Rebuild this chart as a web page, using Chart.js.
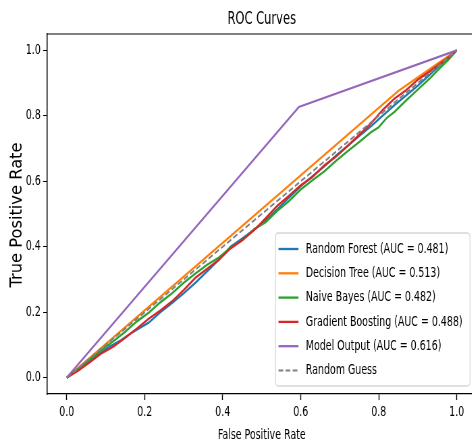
<!DOCTYPE html>
<html>
<head>
<meta charset="utf-8">
<script src="https://cdn.jsdelivr.net/npm/chart.js@4.4.1/dist/chart.umd.min.js"></script>
<style>
  html, body { margin: 0; padding: 0; background: #fff; overflow: hidden; }
  /* the reference is squeezed sideways, so the canvas is drawn wide and scaled down */
  #wrap { width: 716px; height: 446px; transform: scaleX(0.675); transform-origin: 0 0; }
</style>
</head>
<body>
<div id="wrap"><canvas id="roc" width="716" height="446"></canvas></div>
<script>
const SQUEEZE = 0.675;

const modelNames = ["Random Forest", "Decision Tree", "Naive Bayes", "Gradient Boosting", "Model Output"];
const aucValues = [0.481, 0.513, 0.482, 0.488, 0.616];
const lineColors = ["#1f77b4", "#ff7f0e", "#2ca02c", "#d62728", "#9467bd"];

const rfFpr = [0, 0.02, 0.05, 0.08, 0.11, 0.14, 0.17, 0.21, 0.24, 0.27, 0.30, 0.33, 0.36, 0.39, 0.42, 0.45, 0.48, 0.51, 0.54, 0.57, 0.60, 0.63, 0.66, 0.69, 0.72, 0.75, 0.78, 0.81, 0.84, 0.87, 0.90, 0.93, 0.96, 0.98, 1.0];
const rfTpr = [0, 0.018, 0.043, 0.07, 0.095, 0.115, 0.14, 0.168, 0.2, 0.228, 0.258, 0.29, 0.325, 0.36, 0.4, 0.425, 0.452, 0.48, 0.515, 0.55, 0.585, 0.615, 0.645, 0.678, 0.708, 0.738, 0.768, 0.8, 0.832, 0.862, 0.892, 0.925, 0.958, 0.978, 1.0];

const dtFpr = [0, 0.85, 1.0];
const dtTpr = [0, 0.876, 1.0];

const nbFpr = [0, 0.03, 0.06, 0.09, 0.12, 0.15, 0.18, 0.21, 0.24, 0.27, 0.30, 0.33, 0.36, 0.39, 0.42, 0.45, 0.48, 0.51, 0.54, 0.57, 0.60, 0.63, 0.66, 0.69, 0.72, 0.75, 0.78, 0.80, 0.82, 0.84, 0.87, 0.90, 0.93, 0.96, 0.98, 1.0];
const nbTpr = [0, 0.027, 0.056, 0.085, 0.112, 0.14, 0.172, 0.198, 0.23, 0.258, 0.29, 0.318, 0.345, 0.367, 0.397, 0.42, 0.453, 0.475, 0.51, 0.54, 0.575, 0.603, 0.63, 0.662, 0.692, 0.72, 0.75, 0.765, 0.793, 0.812, 0.847, 0.88, 0.913, 0.95, 0.973, 1.0];

const gbFpr = [0, 0.03, 0.06, 0.09, 0.12, 0.15, 0.18, 0.21, 0.24, 0.27, 0.30, 0.33, 0.36, 0.39, 0.42, 0.45, 0.48, 0.51, 0.54, 0.57, 0.60, 0.63, 0.66, 0.69, 0.72, 0.75, 0.78, 0.81, 0.84, 0.87, 0.90, 0.93, 0.96, 0.98, 1.0];
const gbTpr = [0, 0.022, 0.048, 0.075, 0.095, 0.122, 0.15, 0.18, 0.205, 0.233, 0.268, 0.305, 0.333, 0.36, 0.395, 0.42, 0.45, 0.487, 0.525, 0.556, 0.588, 0.613, 0.648, 0.675, 0.708, 0.742, 0.777, 0.818, 0.852, 0.878, 0.91, 0.935, 0.962, 0.98, 1.0];

const moFpr = [0, 0.595, 1.0];
const moTpr = [0, 0.827, 1.0];

const guessFpr = [0, 1];
const guessTpr = [0, 1];

const tickValues = [0, 0.2, 0.4, 0.6, 0.8, 1.0];

const curveFpr = [rfFpr, dtFpr, nbFpr, gbFpr, moFpr];
const curveTpr = [rfTpr, dtTpr, nbTpr, gbTpr, moTpr];

Chart.defaults.font.family = "'DejaVu Sans', sans-serif";
Chart.defaults.color = "#000";

const toPoints = (xs, ys) => xs.map((x, i) => ({ x: x, y: ys[i] }));

const datasets = modelNames.map((name, i) => ({
  label: `${name} (AUC = ${aucValues[i].toFixed(3)})`,
  data: toPoints(curveFpr[i], curveTpr[i]),
  showLine: true,
  borderColor: lineColors[i],
  backgroundColor: lineColors[i],
  borderWidth: 2.3,
  pointRadius: 0,
  order: 10 - i,
}));
datasets.push({
  label: "Random Guess",
  data: toPoints(guessFpr, guessTpr),
  showLine: true,
  borderColor: "#808080",
  backgroundColor: "#808080",
  borderWidth: 2,
  borderDash: [7, 3.5],
  pointRadius: 0,
  order: 0,
});

// title centred over the plot area, like matplotlib
const titlePlugin = {
  id: "plotTitle",
  afterDraw(chart) {
    const { ctx, chartArea } = chart;
    ctx.save();
    ctx.font = "17px 'DejaVu Sans'";
    ctx.fillStyle = "#000";
    ctx.textAlign = "center";
    ctx.textBaseline = "alphabetic";
    ctx.fillText("ROC Curves", (chartArea.left + chartArea.right) / 2, 24);
    ctx.restore();
  },
};

// y label is not squeezed in the reference, so undo the squeeze for it
const yLabelPlugin = {
  id: "yLabel",
  afterDraw(chart) {
    const { ctx, chartArea: a } = chart;
    ctx.save();
    ctx.translate(25.9, (a.top + a.bottom) / 2 + 1);
    ctx.scale(1 / SQUEEZE, 1);
    ctx.rotate(-Math.PI / 2);
    ctx.font = "16.3px 'DejaVu Sans'";
    ctx.fillStyle = "#000";
    ctx.textAlign = "center";
    ctx.textBaseline = "middle";
    ctx.fillText("True Positive Rate", 0, 0);
    ctx.restore();
  },
};

// top and right spines
const framePlugin = {
  id: "frame",
  afterDraw(chart) {
    const { ctx, chartArea: a } = chart;
    ctx.save();
    ctx.strokeStyle = "#000";
    ctx.lineWidth = 1.2;
    ctx.beginPath();
    ctx.moveTo(a.left, a.top);
    ctx.lineTo(a.right, a.top);
    ctx.stroke();
    ctx.lineWidth = 1.5;
    ctx.beginPath();
    ctx.moveTo(a.right, a.top);
    ctx.lineTo(a.right, a.bottom);
    ctx.stroke();
    ctx.restore();
  },
};

// legend box in the lower right corner
const legendPlugin = {
  id: "cornerLegend",
  afterDatasetsDraw(chart) {
    const { ctx, chartArea: a } = chart;
    const sets = chart.data.datasets;
    const rowH = 24.3;
    ctx.save();
    ctx.font = "14px 'DejaVu Sans'";
    let maxW = 0;
    sets.forEach((d) => { maxW = Math.max(maxW, ctx.measureText(d.label).width); });
    const w = 44.9 + maxW + 11;
    const h = 16 + rowH * (sets.length - 1) + 15.5;
    const right = a.right - 9.2;
    const bottom = a.bottom - 8;
    const left = right - w;
    const top = bottom - h;
    ctx.fillStyle = "rgba(255,255,255,0.8)";
    ctx.strokeStyle = "#d6d6d6";
    ctx.lineWidth = 1.3;
    ctx.beginPath();
    ctx.roundRect(left, top, w, h, 4);
    ctx.fill();
    ctx.stroke();
    sets.forEach((d, i) => {
      const y = top + 16 + i * rowH;
      ctx.strokeStyle = d.borderColor;
      ctx.lineWidth = d.borderWidth;
      ctx.setLineDash(d.borderDash || []);
      ctx.beginPath();
      ctx.moveTo(left + 4.4, y);
      ctx.lineTo(left + 34, y);
      ctx.stroke();
      ctx.setLineDash([]);
      ctx.fillStyle = "#000";
      ctx.textAlign = "left";
      ctx.textBaseline = "middle";
      ctx.fillText(d.label, left + 44.9, y);
    });
    ctx.restore();
  },
};

const setTicks = (scale) => { scale.ticks = tickValues.map((v) => ({ value: v })); };

new Chart(document.getElementById("roc"), {
  type: "scatter",
  data: { datasets },
  options: {
    responsive: false,
    animation: false,
    devicePixelRatio: 1,
    layout: { padding: { top: 34, right: 10.5, bottom: 0, left: 0 } },
    plugins: { legend: { display: false }, tooltip: { enabled: false } },
    scales: {
      x: {
        type: "linear",
        min: -0.05,
        max: 1.05,
        afterBuildTicks: setTicks,
        afterFit: (s) => { s.height = 52; },
        ticks: { font: { size: 14 }, padding: 4, maxRotation: 0, autoSkip: false, callback: (v) => v.toFixed(1) },
        grid: { drawOnChartArea: false, tickLength: 6, tickWidth: 1.4, tickColor: "#000" },
        border: { color: "#000", width: 1.2 },
        title: { display: true, text: "False Positive Rate", font: { size: 14 }, padding: { top: 0, bottom: 2 } },
      },
      y: {
        type: "linear",
        min: -0.05,
        max: 1.05,
        afterBuildTicks: setTicks,
        afterFit: (s) => { s.width = 70; },
        ticks: { font: { size: 14 }, padding: 3.6, autoSkip: false, callback: (v) => v.toFixed(1) },
        grid: { drawOnChartArea: false, tickLength: 6, tickWidth: 1, tickColor: "#000" },
        border: { color: "#000", width: 1.5 },
        title: { display: false },
      },
    },
  },
  plugins: [titlePlugin, yLabelPlugin, framePlugin, legendPlugin],
});
</script>
</body>
</html>
